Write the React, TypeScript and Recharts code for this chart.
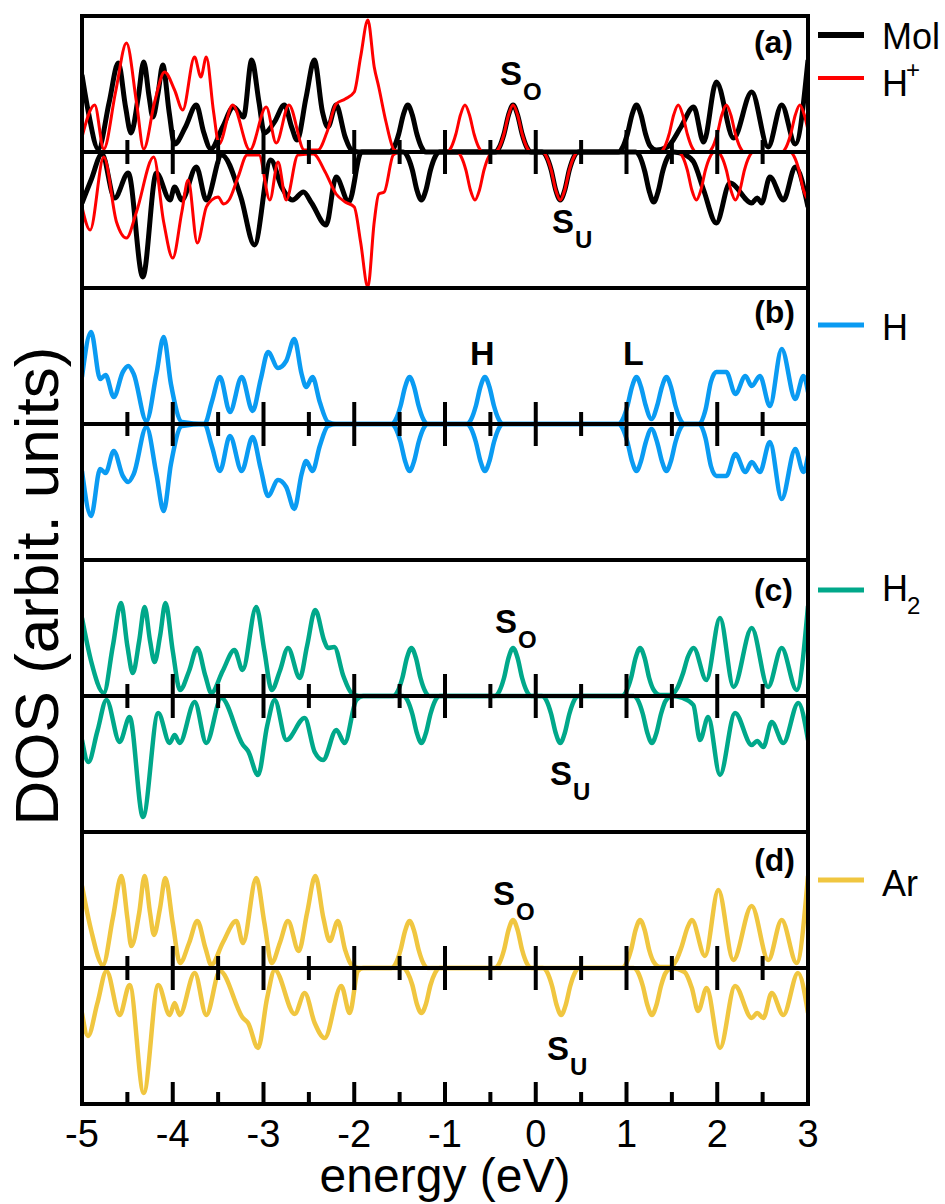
import React from 'react';
import { LineChart, Line, XAxis, YAxis, ReferenceLine } from 'recharts';

type P = [number, number];

// energy (eV) vs DOS (arbit. units); each panel spans -136..136
const majorTicks = [-5, -4, -3, -2, -1, 0, 1, 2, 3];
const minorTicks = [-4.5, -3.5, -2.5, -1.5, -0.5, 0.5, 1.5, 2.5];

// (a) Mol
const molUp: P[] = [
  [-5.0, 77], [-4.93, 40], [-4.82, 3], [-4.7, 50], [-4.6, 89], [-4.52, 45], [-4.46, 19], [-4.38, 55],
  [-4.32, 90], [-4.26, 55], [-4.22, 35], [-4.16, 60], [-4.11, 87], [-4.04, 40], [-3.98, 8], [-3.86, 25],
  [-3.74, 47], [-3.66, 20], [-3.58, 3], [-3.45, 25], [-3.33, 45], [-3.22, 35], [-3.13, 92], [-3.05, 50],
  [-2.99, 19], [-2.88, 30], [-2.77, 47], [-2.69, 25], [-2.63, 12], [-2.53, 55], [-2.44, 92], [-2.35, 40],
  [-2.29, 25], [-2.2, 47], [-2.1, 15], [-2.03, 2], [-1.95, 0],
  [-1.61, 0], [-1.56, 5], [-1.51, 18], [-1.46, 37], [-1.41, 47], [-1.36, 37], [-1.31, 18], [-1.26, 5], [-1.21, 0],
  [-0.45, 0], [-0.4, 5], [-0.35, 18], [-0.3, 37], [-0.25, 47], [-0.2, 37], [-0.15, 18], [-0.1, 5], [-0.05, 0],
  [0.91, 0], [0.96, 5], [1.01, 18], [1.06, 37], [1.11, 47], [1.16, 37], [1.21, 18], [1.26, 6], [1.33, 2],
  [1.45, 5], [1.6, 25], [1.74, 45], [1.85, 10], [1.99, 70], [2.18, 14], [2.38, 60], [2.56, 5], [2.71, 47],
  [2.86, 8], [3.0, 92],
];
const molDown: P[] = [
  [-5.0, -51], [-4.9, -28], [-4.78, -2], [-4.64, -46], [-4.49, -21], [-4.33, -125], [-4.18, -21],
  [-4.03, -48], [-3.98, -35], [-3.9, -48], [-3.74, -15], [-3.63, -48], [-3.46, -3], [-3.25, -45],
  [-3.1, -93], [-2.92, -8], [-2.8, -35], [-2.68, -48], [-2.56, -40], [-2.47, -51], [-2.31, -73],
  [-2.2, -25], [-2.06, -50], [-1.92, 0],
  [-1.46, 0], [-1.41, -5], [-1.36, -18], [-1.31, -38], [-1.26, -48], [-1.21, -38], [-1.16, -18], [-1.11, -5], [-1.06, 0],
  [0.07, 0], [0.12, -5], [0.17, -18], [0.22, -38], [0.27, -48], [0.32, -38], [0.37, -18], [0.42, -5], [0.47, 0],
  [1.1, 0], [1.15, -5], [1.2, -19], [1.25, -39], [1.3, -50], [1.35, -39], [1.4, -19], [1.45, -6], [1.52, 0],
  [1.65, -3], [1.74, -10], [1.85, -38], [1.99, -71], [2.14, -31], [2.38, -51], [2.44, -46], [2.49, -51],
  [2.58, -25], [2.73, -48], [2.86, -15], [3.0, -55],
];
// (a) H+
const hpUp: P[] = [
  [-5.0, 15], [-4.86, 47], [-4.76, 3], [-4.63, 60], [-4.51, 109], [-4.4, 50], [-4.32, 3], [-4.2, 50],
  [-4.09, 80], [-3.98, 62], [-3.89, 42], [-3.76, 95], [-3.69, 75], [-3.63, 95], [-3.55, 40], [-3.49, 8],
  [-3.34, 47], [-3.15, 2], [-2.97, 45], [-2.86, 9], [-2.72, 47], [-2.55, 2], [-2.4, 2], [-2.3, 20],
  [-2.2, 48], [-2.1, 53], [-2.0, 60], [-1.93, 95], [-1.85, 132], [-1.78, 85], [-1.73, 65], [-1.65, 30],
  [-1.56, 2], [-1.5, 0],
  [-0.98, 0], [-0.93, 5], [-0.88, 18], [-0.83, 37], [-0.78, 47], [-0.73, 37], [-0.68, 18], [-0.63, 5], [-0.58, 0],
  [-0.45, 0], [-0.4, 5], [-0.35, 18], [-0.3, 37], [-0.25, 47], [-0.2, 37], [-0.15, 18], [-0.1, 5], [-0.05, 0],
  [1.37, 0], [1.42, 5], [1.47, 18], [1.52, 37], [1.57, 47], [1.62, 37], [1.67, 18], [1.72, 5], [1.77, 0],
  [1.9, 0], [1.95, 5], [2.0, 18], [2.05, 37], [2.1, 47], [2.15, 37], [2.2, 18], [2.25, 5], [2.3, 0],
  [2.71, 0], [2.76, 5], [2.81, 18], [2.86, 37], [2.91, 47], [2.96, 37], [3.0, 22],
];
const hpDown: P[] = [
  [-5.0, -55], [-4.91, -78], [-4.76, -5], [-4.62, -70], [-4.51, -86], [-4.4, -60], [-4.21, -5],
  [-4.1, -70], [-4.0, -106], [-3.9, -60], [-3.83, -28], [-3.73, -91], [-3.63, -55], [-3.57, -48],
  [-3.5, -45], [-3.44, -52], [-3.38, -48], [-3.28, -25], [-3.18, -3], [-3.05, -3], [-2.93, -48],
  [-2.84, -10], [-2.75, -48], [-2.62, -3], [-2.45, -2], [-2.32, -20], [-2.2, -42], [-2.1, -50],
  [-2.0, -55], [-1.93, -90], [-1.85, -135], [-1.78, -70], [-1.73, -42], [-1.67, -40], [-1.57, -3],
  [-1.5, 0],
  [-0.87, 0], [-0.82, -5], [-0.77, -18], [-0.72, -38], [-0.67, -48], [-0.62, -38], [-0.57, -18], [-0.52, -5], [-0.47, 0],
  [0.07, 0], [0.12, -5], [0.17, -18], [0.22, -38], [0.27, -48], [0.32, -38], [0.37, -18], [0.42, -5], [0.47, 0],
  [1.57, 0], [1.62, -5], [1.67, -18], [1.72, -38], [1.77, -48], [1.82, -38], [1.87, -18], [1.92, -5], [1.97, 0],
  [2.0, 0], [2.05, -5], [2.1, -18], [2.15, -38], [2.2, -48], [2.25, -38], [2.3, -18], [2.35, -5], [2.4, 0],
  [2.8, 0], [2.85, -5], [2.9, -18], [2.95, -38], [3.0, -48],
];
// (b) H
const hUp: P[] = [
  [-5.0, 47], [-4.9, 92], [-4.8, 45], [-4.74, 49], [-4.65, 27], [-4.55, 52], [-4.49, 58], [-4.43, 50],
  [-4.29, 3], [-4.18, 50], [-4.1, 87], [-4.02, 40], [-3.9, 2], [-3.65, 0], [-3.57, 22], [-3.48, 47],
  [-3.37, 12], [-3.24, 47], [-3.12, 13], [-3.03, 45], [-2.95, 72], [-2.84, 56], [-2.75, 63], [-2.66, 85],
  [-2.58, 50], [-2.53, 37], [-2.46, 47], [-2.38, 22], [-2.29, 2], [-2.2, 0],
  [-1.59, 0], [-1.54, 5], [-1.49, 18], [-1.44, 37], [-1.39, 47], [-1.34, 37], [-1.29, 18], [-1.24, 5], [-1.19, 0],
  [-0.76, 0], [-0.71, 5], [-0.66, 18], [-0.61, 37], [-0.56, 47], [-0.51, 37], [-0.46, 18], [-0.41, 5], [-0.36, 0],
  [0.91, 0], [0.96, 5], [1.01, 18], [1.06, 37], [1.11, 47], [1.16, 37], [1.21, 19], [1.275, 5], [1.34, 19],
  [1.39, 37], [1.44, 47], [1.49, 37], [1.54, 18], [1.59, 5], [1.64, 0],
  [1.8, 0], [1.87, 14], [1.93, 42], [1.99, 52], [2.1, 52], [2.2, 30], [2.31, 48], [2.38, 38], [2.47, 48],
  [2.58, 18], [2.71, 75], [2.86, 25], [2.95, 48], [3.0, 32],
];
const hDown: P[] = [
  [-5.0, -47], [-4.9, -92], [-4.8, -45], [-4.74, -49], [-4.65, -27], [-4.55, -52], [-4.49, -58],
  [-4.43, -50], [-4.29, -3], [-4.18, -50], [-4.1, -87], [-4.02, -40], [-3.9, -2], [-3.65, 0],
  [-3.57, -22], [-3.48, -47], [-3.37, -12], [-3.24, -47], [-3.12, -13], [-3.03, -45], [-2.95, -72],
  [-2.84, -56], [-2.75, -63], [-2.66, -85], [-2.58, -50], [-2.53, -37], [-2.46, -47], [-2.38, -22],
  [-2.29, -2], [-2.2, 0],
  [-1.59, 0], [-1.54, -5], [-1.49, -18], [-1.44, -37], [-1.39, -47], [-1.34, -37], [-1.29, -18], [-1.24, -5], [-1.19, 0],
  [-0.76, 0], [-0.71, -5], [-0.66, -18], [-0.61, -37], [-0.56, -47], [-0.51, -37], [-0.46, -18], [-0.41, -5], [-0.36, 0],
  [0.91, 0], [0.96, -5], [1.01, -18], [1.06, -37], [1.11, -47], [1.16, -37], [1.21, -19], [1.275, -5], [1.34, -19],
  [1.39, -37], [1.44, -47], [1.49, -37], [1.54, -18], [1.59, -5], [1.64, 0],
  [1.8, 0], [1.87, -14], [1.93, -42], [1.99, -52], [2.1, -52], [2.2, -30], [2.31, -48], [2.38, -38],
  [2.47, -48], [2.58, -18], [2.71, -75], [2.86, -25], [2.95, -48], [3.0, -32],
];
// (c) H2
const h2Up: P[] = [
  [-5.0, 78], [-4.9, 35], [-4.76, 3], [-4.66, 50], [-4.57, 93], [-4.5, 50], [-4.44, 23], [-4.37, 55],
  [-4.31, 89], [-4.25, 55], [-4.2, 34], [-4.14, 60], [-4.08, 93], [-4.0, 45], [-3.92, 6], [-3.82, 25],
  [-3.73, 48], [-3.64, 20], [-3.575, 3], [-3.45, 25], [-3.32, 46], [-3.23, 26], [-3.08, 89], [-2.99, 45],
  [-2.91, 6], [-2.82, 25], [-2.73, 48], [-2.6, 18], [-2.52, 50], [-2.43, 86], [-2.33, 55], [-2.29, 48],
  [-2.22, 49], [-2.12, 20], [-2.03, 3], [-1.95, 0],
  [-1.57, 0], [-1.52, 5], [-1.47, 18], [-1.42, 38], [-1.37, 48], [-1.32, 38], [-1.27, 18], [-1.22, 5], [-1.17, 0],
  [-0.45, 0], [-0.4, 5], [-0.35, 18], [-0.3, 38], [-0.25, 48], [-0.2, 38], [-0.15, 18], [-0.1, 5], [-0.05, 0],
  [0.95, 0], [1.0, 5], [1.05, 18], [1.1, 38], [1.15, 48], [1.2, 38], [1.25, 18], [1.3, 6], [1.37, 1],
  [1.48, 1], [1.56, 8], [1.62, 22], [1.68, 40], [1.74, 48], [1.88, 16], [2.03, 78], [2.18, 9], [2.38, 68],
  [2.56, 9], [2.71, 48], [2.875, 6], [3.0, 90],
];
const h2Down: P[] = [
  [-5.0, -44], [-4.93, -66], [-4.83, -35], [-4.73, -4], [-4.585, -46], [-4.475, -21], [-4.328, -121],
  [-4.16, -17], [-4.034, -47], [-3.979, -39], [-3.924, -47], [-3.758, -6], [-3.63, -47], [-3.465, -2],
  [-3.226, -49], [-3.17, -55], [-3.06, -79], [-2.96, -30], [-2.876, -4], [-2.748, -44], [-2.546, -22],
  [-2.436, -56], [-2.344, -64], [-2.197, -34], [-2.106, -47], [-1.977, -4], [-1.9, 0],
  [-1.46, 0], [-1.41, -5], [-1.36, -18], [-1.31, -37], [-1.26, -47], [-1.21, -37], [-1.16, -18], [-1.11, -5], [-1.06, 0],
  [0.07, 0], [0.12, -5], [0.17, -18], [0.22, -37], [0.27, -47], [0.32, -37], [0.37, -18], [0.42, -5], [0.47, 0],
  [1.08, 0], [1.13, -5], [1.18, -18], [1.23, -37], [1.28, -47], [1.33, -37], [1.38, -18], [1.43, -5], [1.5, 0],
  [1.62, -2], [1.737, -9], [1.81, -44], [1.9, -21], [2.03, -79], [2.196, -17], [2.38, -49], [2.44, -45],
  [2.508, -51], [2.6, -26], [2.728, -47], [2.893, -7], [3.0, -44],
];
// (d) Ar
const arUp: P[] = [
  [-5.0, 82], [-4.9, 38], [-4.77, 3], [-4.66, 50], [-4.566, 92], [-4.5, 50], [-4.457, 22], [-4.37, 55],
  [-4.31, 92], [-4.25, 55], [-4.207, 33], [-4.14, 60], [-4.082, 90], [-4.0, 45], [-3.92, 5], [-3.82, 25],
  [-3.729, 47], [-3.64, 20], [-3.575, 3], [-3.45, 25], [-3.3, 47], [-3.226, 25], [-3.079, 90],
  [-2.99, 45], [-2.91, 5], [-2.82, 25], [-2.73, 47], [-2.612, 17], [-2.52, 55], [-2.429, 92],
  [-2.34, 50], [-2.27, 27], [-2.18, 47], [-2.1, 18], [-2.03, 3], [-1.95, 0],
  [-1.59, 0], [-1.54, 5], [-1.49, 18], [-1.44, 37], [-1.39, 47], [-1.34, 37], [-1.29, 18], [-1.24, 5], [-1.19, 0],
  [-0.45, 0], [-0.4, 5], [-0.35, 18], [-0.3, 38], [-0.25, 48], [-0.2, 38], [-0.15, 18], [-0.1, 5], [-0.05, 0],
  [0.95, 0], [1.0, 5], [1.05, 18], [1.1, 38], [1.15, 48], [1.2, 38], [1.25, 18], [1.3, 6], [1.37, 1],
  [1.48, 1], [1.55, 8], [1.61, 22], [1.67, 40], [1.72, 48], [1.865, 12], [2.012, 78], [2.177, 8],
  [2.379, 62], [2.563, 8], [2.71, 48], [2.875, 5], [3.0, 92],
];
const arDown: P[] = [
  [-5.0, -45], [-4.934, -68], [-4.83, -35], [-4.73, -3], [-4.585, -47], [-4.475, -17], [-4.32, -125],
  [-4.16, -17], [-4.034, -47], [-3.979, -35], [-3.924, -47], [-3.758, -5], [-3.63, -47], [-3.48, -3],
  [-3.226, -50], [-3.17, -55], [-3.06, -80], [-2.96, -30], [-2.876, -2], [-2.656, -46], [-2.546, -25],
  [-2.436, -55], [-2.326, -70], [-2.143, -18], [-2.05, -45], [-1.96, -3], [-1.9, 0],
  [-1.46, 0], [-1.41, -5], [-1.36, -17], [-1.31, -36], [-1.26, -45], [-1.21, -36], [-1.16, -17], [-1.11, -5], [-1.06, 0],
  [0.08, 0], [0.13, -5], [0.18, -18], [0.23, -37], [0.28, -47], [0.33, -37], [0.38, -18], [0.43, -5], [0.48, 0],
  [1.08, 0], [1.13, -5], [1.18, -18], [1.23, -37], [1.28, -47], [1.33, -37], [1.38, -18], [1.43, -5], [1.5, 0],
  [1.64, -4], [1.72, -20], [1.79, -43], [1.883, -20], [2.03, -80], [2.196, -18], [2.38, -50], [2.44, -45],
  [2.508, -50], [2.6, -25], [2.728, -47], [2.89, -5], [3.0, -45],
];

const BLUE = '#0a9bf2';
const TEAL = '#00a88a';
const GOLD = '#f0c640';

const FONT = '"Liberation Sans", Arial, Helvetica, sans-serif';
const LEFT = 82;
const PLOT_W = 726;
const PANEL_H = 272;
const PAD = 40; // room for the end tick labels
const panelTops = [16, 288, 560, 832];

interface Series { pts: P[]; color: string; width: number }

const rows = (pts: P[]) => pts.map(([e, v]) => ({ e, v }));

const Panel = ({ top, series, last }: { top: number; series: Series[]; last?: boolean }) => (
  <div style={{ position: 'absolute', left: LEFT - PAD, top }}>
    <LineChart
      width={PLOT_W + 2 * PAD}
      height={last ? PANEL_H + 100 : PANEL_H}
      margin={{ top: 0, right: PAD, bottom: 0, left: PAD }}
    >
      <XAxis
        type="number"
        dataKey="e"
        domain={[-5, 3]}
        ticks={majorTicks}
        interval={0}
        allowDataOverflow
        hide={!last}
        height={100}
        axisLine={false}
        tickLine={false}
        tickSize={6}
        tickMargin={10}
        tick={{ fontSize: 38, fill: '#000' }}
        label={{ value: 'energy (eV)', position: 'insideBottom', offset: 12, fontSize: 48, fill: '#000' }}
      />
      <YAxis type="number" dataKey="v" domain={[-136, 136]} allowDataOverflow hide />
      {series.map((s, i) => (
        <Line
          key={i}
          data={rows(s.pts)}
          dataKey="v"
          type="monotone"
          stroke={s.color}
          strokeWidth={s.width}
          strokeLinejoin="round"
          dot={false}
          activeDot={false}
          isAnimationActive={false}
        />
      ))}
      {/* zero line and its ticks sit on top of the curves */}
      <ReferenceLine y={0} stroke="#000" strokeWidth={4} zIndex={2000} />
      {majorTicks.map((t) => (
        <ReferenceLine key={'M' + t} segment={[{ x: t, y: -22 }, { x: t, y: 22 }]} stroke="#000" strokeWidth={4} zIndex={2000} />
      ))}
      {minorTicks.map((t) => (
        <ReferenceLine key={'m' + t} segment={[{ x: t, y: -12 }, { x: t, y: 12 }]} stroke="#000" strokeWidth={4} zIndex={2000} />
      ))}
      {last && majorTicks.map((t) => (
        <ReferenceLine key={'bM' + t} segment={[{ x: t, y: -136 }, { x: t, y: -114 }]} stroke="#000" strokeWidth={4} zIndex={2000} />
      ))}
      {last && minorTicks.map((t) => (
        <ReferenceLine key={'bm' + t} segment={[{ x: t, y: -136 }, { x: t, y: -124 }]} stroke="#000" strokeWidth={4} zIndex={2000} />
      ))}
    </LineChart>
  </div>
);

const panels: Series[][] = [
  [
    { pts: molUp, color: '#000', width: 5 },
    { pts: molDown, color: '#000', width: 5 },
    { pts: hpUp, color: '#ff0000', width: 3 },
    { pts: hpDown, color: '#ff0000', width: 3 },
  ],
  [
    { pts: hUp, color: BLUE, width: 4.5 },
    { pts: hDown, color: BLUE, width: 4.5 },
  ],
  [
    { pts: h2Up, color: TEAL, width: 4.5 },
    { pts: h2Down, color: TEAL, width: 4.5 },
  ],
  [
    { pts: arUp, color: GOLD, width: 4.5 },
    { pts: arDown, color: GOLD, width: 4.5 },
  ],
];

const S = ({ x, y, sub }: { x: number; y: number; sub: string }) => (
  <g fontWeight="bold">
    <text x={x} y={y} fontSize={33}>S</text>
    <text x={x + 23} y={y + 15} fontSize={24}>{sub}</text>
  </g>
);

export default function App() {
  return (
    <div style={{ position: 'relative', width: 945, height: 1204, fontFamily: FONT, background: '#fff' }}>
      <style>{'body{margin:0}'}</style>
      {panels.map((series, i) => (
        <Panel key={i} top={panelTops[i]} series={series} last={i === 3} />
      ))}
      {panelTops.map((t, i) => (
        <div
          key={'f' + i}
          style={{
            position: 'absolute', left: LEFT - 2, top: t - 2, width: PLOT_W + 4, height: PANEL_H + 4,
            border: '4px solid #000', boxSizing: 'border-box', pointerEvents: 'none',
          }}
        />
      ))}
      <svg width={945} height={1204} style={{ position: 'absolute', left: 0, top: 0, pointerEvents: 'none' }} fontFamily={FONT}>
        <text x={0} y={0} fontSize={62} textAnchor="middle" transform="translate(58 586) rotate(-90)">DOS (arbit. units)</text>
        <g fontWeight="bold" fontSize={32} textAnchor="end">
          <text x={793} y={53}>(a)</text>
          <text x={795} y={323}>(b)</text>
          <text x={793} y={601}>(c)</text>
          <text x={795} y={871}>(d)</text>
        </g>
        <S x={500} y={85} sub="O" />
        <S x={552} y={233} sub="U" />
        <S x={495} y={633} sub="O" />
        <S x={550} y={785} sub="U" />
        <S x={493} y={905} sub="O" />
        <S x={547} y={1060} sub="U" />
        <text x={470} y={365} fontSize={34} fontWeight="bold">H</text>
        <text x={623} y={365} fontSize={34} fontWeight="bold">L</text>
        <g fontSize={36}>
          <line x1={818} x2={864} y1={35} y2={35} stroke="#000" strokeWidth={6} />
          <text x={882} y={49}>Mol</text>
          <line x1={818} x2={864} y1={78} y2={78} stroke="#ff0000" strokeWidth={4} />
          <text x={882} y={96}>H</text>
          <text x={906} y={78} fontSize={24}>+</text>
          <line x1={818} x2={864} y1={325} y2={325} stroke={BLUE} strokeWidth={5} />
          <text x={882} y={340}>H</text>
          <line x1={818} x2={864} y1={590} y2={590} stroke={TEAL} strokeWidth={5} />
          <text x={882} y={601}>H</text>
          <text x={907} y={614} fontSize={24}>2</text>
          <line x1={818} x2={864} y1={880} y2={880} stroke={GOLD} strokeWidth={5} />
          <text x={882} y={896}>Ar</text>
        </g>
      </svg>
    </div>
  );
}
